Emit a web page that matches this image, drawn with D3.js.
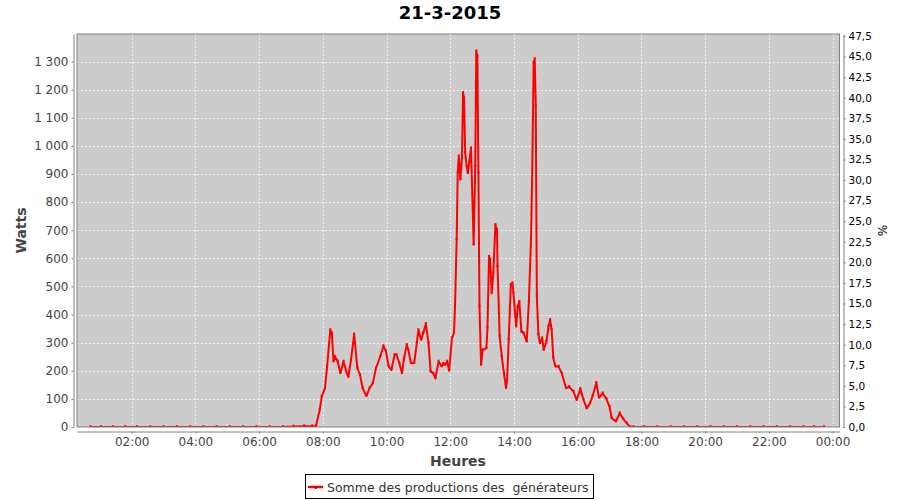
<!DOCTYPE html>
<html>
<head>
<meta charset="utf-8">
<script src="https://cdn.jsdelivr.net/npm/d3@7"></script>
<style>
  html, body { margin: 0; padding: 0; background: #ffffff; }
  svg { display: block; font-family: "DejaVu Sans", sans-serif; }
</style>
</head>
<body>
<svg id="chart" width="900" height="500"></svg>
<script>
// ---- Data ----
const chartTitle = "21-3-2015";
const seriesName = "Somme des productions des  générateurs";
const times = [
  "00:42","01:02","01:25","01:48","02:10","02:35","03:00","03:25","03:50","04:15",
  "04:40","05:05","05:30","05:55","06:20","06:45","07:05","07:25","07:40","07:47",
  "07:54","07:58","08:04","08:08","08:14","08:17","08:20","08:23","08:28","08:33",
  "08:39","08:44","08:48","08:53","08:59","09:05","09:10","09:15","09:22","09:28",
  "09:34","09:40","09:48","09:54","09:59","10:04","10:09","10:15","10:19","10:24",
  "10:29","10:33","10:38","10:41","10:46","10:52","10:57","11:00","11:05","11:09",
  "11:14","11:19","11:23","11:28","11:32","11:38","11:44","11:47","11:50","11:54",
  "11:58","12:03","12:07","12:09","12:12","12:14","12:16","12:19","12:22","12:24",
  "12:26","12:28","12:31","12:33","12:36","12:39","12:41","12:44","12:47","12:49",
  "12:51","12:53","12:55","12:58","13:01","13:08","13:10","13:13","13:15","13:18",
  "13:21","13:25","13:28","13:29","13:33","13:37","13:41","13:45","13:47","13:50",
  "13:54","13:57","13:59","14:04","14:07","14:10","14:14","14:18","14:24","14:28",
  "14:32","14:34","14:37","14:39","14:41","14:43","14:46","14:49","14:53","14:56",
  "15:01","15:05","15:08","15:11","15:14","15:18","15:24","15:30","15:38","15:44",
  "15:52","15:58","16:05","16:11","16:17","16:23","16:28","16:35","16:40","16:47",
  "16:54","17:00","17:04","17:12","17:19","17:26","17:33","17:39","17:45","18:05",
  "18:30","18:55","19:20","19:45","20:10","20:35","21:00","21:25","21:50","22:15",
  "22:40","23:05","23:25","23:44"
];
const watts = [
  0,0,0,0,0,0,0,0,0,0,
  0,0,0,0,0,0,2,3,3,3,
  60,108,138,215,345,334,233,250,233,191,
  233,197,178,238,330,209,185,138,110,138,
  155,209,250,288,268,215,203,256,256,227,
  191,245,292,274,227,227,298,345,310,334,
  367,298,197,191,173,233,215,225,221,233,
  200,316,334,434,666,903,963,880,957,1188,
  1170,975,927,903,945,992,856,648,927,1337,
  1319,903,428,221,274,280,351,606,595,476,
  547,719,701,571,322,250,191,138,167,310,
  506,512,476,357,428,446,339,334,304,446,
  666,868,1295,1309,1141,464,328,298,316,274,
  304,357,381,345,245,215,215,191,138,143,
  126,96,136,96,66,84,110,157,104,120,
  100,72,31,20,49,28,12,0,0,0,
  0,0,0,0,0,0,0,0,0,0,
  0,0,0,0
];
const wattTicks = [0,100,200,300,400,500,600,700,800,900,1000,1100,1200,1300];
const percentTicks = [0,2.5,5,7.5,10,12.5,15,17.5,20,22.5,25,27.5,30,32.5,35,37.5,40,42.5,45,47.5];
const hourTickLabels = ["02:00","04:00","06:00","08:00","10:00","12:00","14:00","16:00","18:00","20:00","22:00","00:00"];
const xDomainLabels = ["00:17", "24:13"];
const wattMax = 1398;
const percentMax = 47.74;

// ---- Helpers ----
function toDate(s) {
  const [h, m] = s.split(":").map(Number);
  return new Date(Date.UTC(2015, 2, 21, h, m));
}
const data = times.map((t, i) => ({ t: toDate(t), v: watts[i] }));
const frLocale = d3.formatLocale({ decimal: ",", thousands: "\u00a0", grouping: [3], currency: ["", " €"] });
const fmtW = frLocale.format(",d");
const fmtP = frLocale.format(".1f");

// ---- Layout ----
const L = 77, R = 839.5, T = 34, B = 427;
const svg = d3.select("#chart");

const x = d3.scaleUtc().domain(xDomainLabels.map(toDate)).range([L, R]);
const y = d3.scaleLinear().domain([0, wattMax]).range([B, T]);
const yR = d3.scaleLinear().domain([0, percentMax]).range([B, T]);
const hourTicks = hourTickLabels.map((s, i) => new Date(Date.UTC(2015, 2, 21, 2 * (i + 1), 0)));

// Title
svg.append("text").attr("x", 450).attr("y", 19).attr("text-anchor", "middle")
  .attr("font-size", 18).attr("font-weight", "bold").attr("fill", "#000").text(chartTitle);

// Plot background
svg.append("rect").attr("x", L).attr("y", T).attr("width", R - L).attr("height", B - T)
  .attr("fill", "#cccccc");

// Grid lines
const grid = svg.append("g").attr("stroke", "#ffffff").attr("stroke-width", 0.8)
  .attr("stroke-dasharray", "2,2").attr("opacity", 0.9);
grid.selectAll("line.v").data(hourTicks).join("line")
  .attr("x1", d => Math.round(x(d)) + 0.5).attr("x2", d => Math.round(x(d)) + 0.5)
  .attr("y1", T).attr("y2", B);
grid.selectAll("line.h").data(wattTicks.slice(1)).join("line")
  .attr("x1", L).attr("x2", R)
  .attr("y1", d => Math.round(y(d)) + 0.5).attr("y2", d => Math.round(y(d)) + 0.5);

// Clip
svg.append("clipPath").attr("id", "clip").append("rect")
  .attr("x", L).attr("y", T).attr("width", R - L).attr("height", B - T);

// Series line
const line = d3.line().x(d => x(d.t)).y(d => y(d.v));
const series = svg.append("g").attr("clip-path", "url(#clip)");
series.append("path").datum(data).attr("d", line)
  .attr("fill", "none").attr("stroke", "#ff0000").attr("stroke-width", 2)
  .attr("stroke-linejoin", "round");
series.selectAll("rect.pt").data(data).join("rect")
  .attr("x", d => x(d.t) - 1).attr("y", d => y(d.v) - 1.8)
  .attr("width", 2).attr("height", 2.2).attr("fill", "#ff0000");

// Plot outline
svg.append("rect").attr("x", L).attr("y", T).attr("width", R - L).attr("height", B - T)
  .attr("fill", "none").attr("stroke", "#808080").attr("stroke-width", 1);

// Axes
function styleAxis(g, color, size) {
  g.selectAll(".domain").attr("stroke", "#808080");
  g.selectAll(".tick line").attr("stroke", "#808080");
  g.selectAll(".tick text").attr("fill", color).attr("font-size", size)
    .attr("font-family", "DejaVu Sans, sans-serif");
}
const gx = svg.append("g").attr("transform", `translate(0,431.5)`)
  .call(d3.axisBottom(x).tickValues(hourTicks).tickFormat((d, i) => hourTickLabels[i])
    .tickSize(2).tickSizeOuter(0).tickPadding(4));
styleAxis(gx, "#444444", 12);

const gy = svg.append("g").attr("transform", `translate(73.5,0)`)
  .call(d3.axisLeft(y).tickValues(wattTicks).tickFormat(fmtW)
    .tickSize(2).tickSizeOuter(0).tickPadding(3));
styleAxis(gy, "#444444", 12);

const gyR = svg.append("g").attr("transform", `translate(843.5,0)`)
  .call(d3.axisRight(yR).tickValues(percentTicks).tickFormat(fmtP)
    .tickSize(2).tickSizeOuter(0).tickPadding(3));
styleAxis(gyR, "#000000", 10.5);

// Axis labels
svg.append("text").attr("x", 458).attr("y", 466).attr("text-anchor", "middle")
  .attr("font-size", 14).attr("font-weight", "bold").attr("fill", "#444444").text("Heures");
svg.append("text").attr("transform", "translate(26,230.5) rotate(-90)").attr("text-anchor", "middle")
  .attr("font-size", 14).attr("font-weight", "bold").attr("fill", "#444444").text("Watts");
svg.append("text").attr("transform", "translate(878,230.5) rotate(90)").attr("text-anchor", "middle")
  .attr("font-size", 12).attr("fill", "#000000").text("%");

// Legend
const lg = svg.append("g");
lg.append("rect").attr("x", 305.5).attr("y", 474.5).attr("width", 288).attr("height", 24)
  .attr("fill", "#ffffff").attr("stroke", "#000000").attr("stroke-width", 1);
lg.append("line").attr("x1", 308).attr("x2", 323).attr("y1", 487).attr("y2", 487)
  .attr("stroke", "#ff0000").attr("stroke-width", 2.5);
lg.append("rect").attr("x", 315).attr("y", 487).attr("width", 1.5).attr("height", 2).attr("fill", "#880000");
lg.append("text").attr("x", 327).attr("y", 491.5).attr("font-size", 12.5).attr("fill", "#333333")
  .attr("xml:space", "preserve").style("white-space", "pre").text(seriesName);
</script>
</body>
</html>
